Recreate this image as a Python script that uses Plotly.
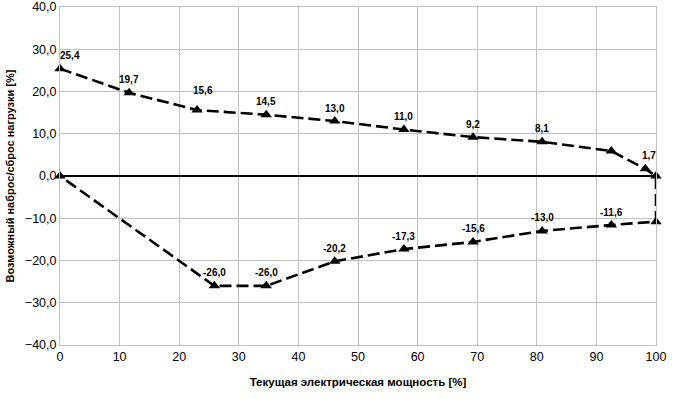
import plotly.graph_objects as go

# Upper branch (load increase) then down the 100% edge, lower branch back to 0
upper_x = [0, 11.6, 23.0, 34.6, 46.1, 57.7, 69.3, 80.9, 92.5, 98.2, 100]
upper_y = [25.4, 19.7, 15.6, 14.5, 13.0, 11.0, 9.2, 8.1, 5.9, 1.7, 0.0]
upper_labels = ["25,4", "19,7", "15,6", "14,5", "13,0", "11,0", "9,2", "8,1", None, "1,7", None]

lower_x = [100, 92.5, 80.9, 69.3, 57.7, 46.1, 34.6, 25.9, 0]
lower_y = [-10.8, -11.6, -13.0, -15.6, -17.3, -20.2, -26.0, -26.0, 0.0]
lower_labels = [None, "-11,6", "-13,0", "-15,6", "-17,3", "-20,2", "-26,0", "-26,0", None]

x_ticks = [0, 10, 20, 30, 40, 50, 60, 70, 80, 90, 100]
y_ticks = [-40, -30, -20, -10, 0, 10, 20, 30, 40]

FONT = "Arial, Liberation Sans, sans-serif"

fig = go.Figure()

# zero line
fig.add_trace(go.Scatter(x=[x_ticks[0], x_ticks[-1]], y=[0, 0], mode="lines",
                         line=dict(color="black", width=2), hoverinfo="skip"))

fig.add_trace(go.Scatter(
    x=upper_x + lower_x, y=upper_y + lower_y, mode="lines+markers",
    line=dict(color="black", width=2.6, dash="12px,5px"),
    marker=dict(symbol="triangle-up", size=10, color="black"),
    cliponaxis=False,
))

label_shift = {"25,4": (10, 0), "15,6": (6, 7), "1,7": (4, 0)}
for xs, ys, ls in [(upper_x, upper_y, upper_labels), (lower_x, lower_y, lower_labels)]:
    for x, y, t in zip(xs, ys, ls):
        if t is None:
            continue
        dx, dy = label_shift.get(t, (0, 0))
        fig.add_annotation(x=x, y=y, text="<b>%s</b>" % t, showarrow=False,
                           xshift=dx, yshift=13 + dy,
                           font=dict(family=FONT, size=10, color="black"))

fig.update_layout(
    width=675, height=399,
    margin=dict(l=60, r=19, t=7, b=54),
    paper_bgcolor="white", plot_bgcolor="white",
    showlegend=False,
    separators=", ",
    font=dict(family=FONT, size=12, color="black"),
)
fig.update_xaxes(range=[0, 100], tickvals=x_ticks, showgrid=True, gridcolor="#c0c0c0",
                 gridwidth=1, zeroline=False, showline=True, linecolor="#c0c0c0",
                 mirror=True, ticks="", ticklen=0, automargin=False,
                 tickfont=dict(family=FONT, size=12.5),
                 title=dict(text="<b>Текущая электрическая мощность [%]</b>",
                            font=dict(family=FONT, size=11.5), standoff=14))
fig.update_yaxes(range=[-40, 40], tickvals=y_ticks, tickformat=".1f", showgrid=True,
                 gridcolor="#c0c0c0", gridwidth=1, zeroline=False, showline=True,
                 linecolor="#c0c0c0", mirror=True, ticks="", automargin=False,
                 tickfont=dict(family=FONT, size=12.5),
                 title=dict(text="<b>Возможный наброс/сброс нагрузки [%]</b>",
                            font=dict(family=FONT, size=11), standoff=8))

fig.write_html("out.html", config={"displayModeBar": False},
               post_script="document.body.style.margin='0';")
